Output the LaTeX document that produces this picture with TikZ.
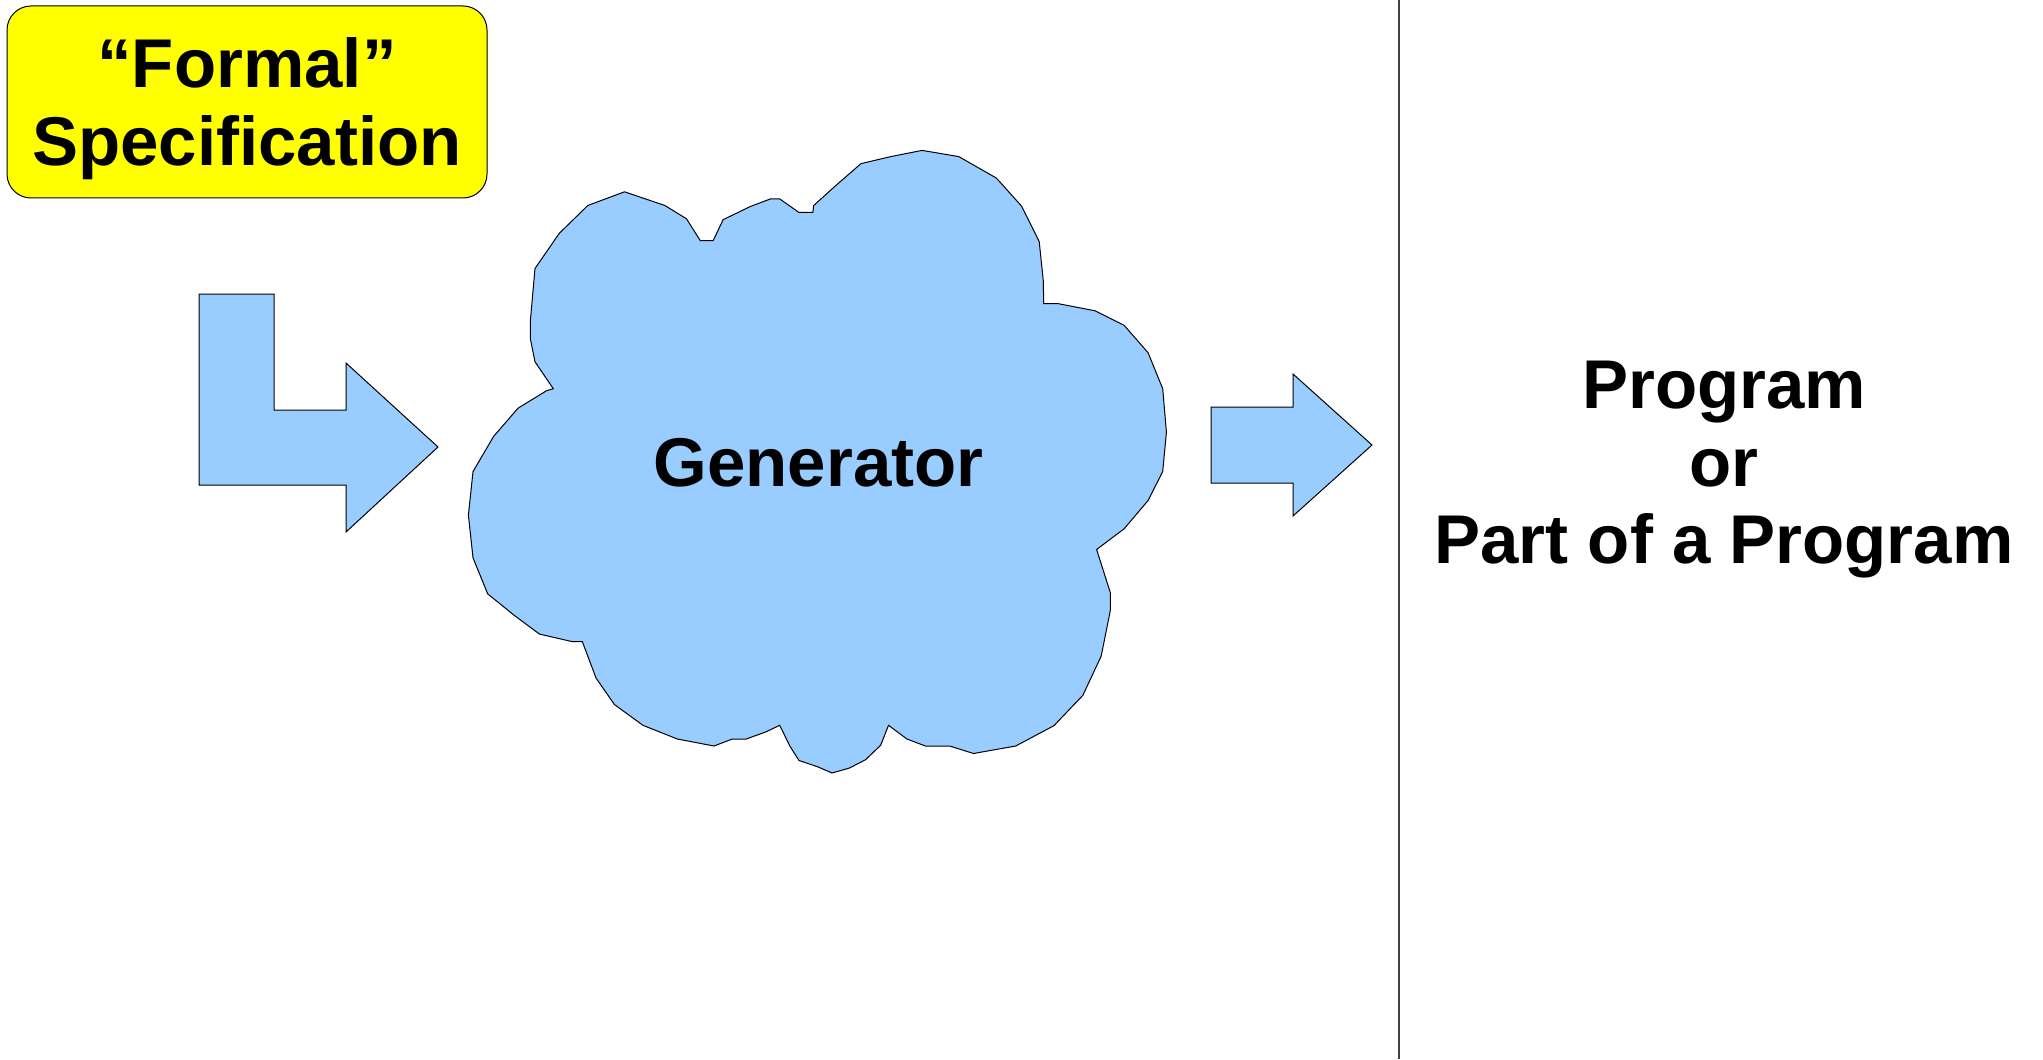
\documentclass[tikz,border=0pt]{standalone}
\usepackage{fontspec}
\setmainfont{Liberation Sans}
\definecolor{skyfill}{HTML}{99CCFF}
\definecolor{specfill}{HTML}{FFFF00}
\begin{document}
\begin{tikzpicture}[x=0.5pt,y=-0.5pt,
  shapeline/.style={draw=black, line width=0.5pt, line join=miter},
  bluefill/.style={shapeline, fill=skyfill},
  bigtext/.style={font=\fontsize{34.5}{38.75}\selectfont\bfseries, inner sep=0pt, align=center}]
\useasboundingbox (0,0) rectangle (2043,1059);

% specification box
\draw[shapeline, fill=specfill, rounded corners=12pt] (7,6) rectangle (487,198);
\node[bigtext, anchor=base] (formal) at (247,88) {“Formal”};
\node[bigtext, anchor=base] (spec) at (247,166) {Specification};

% bent arrow from specification into generator
\path[bluefill] (199,294) -- (274,294) -- (274,410) -- (346,410) -- (346,363)
  -- (438,447) -- (346,532) -- (346,485) -- (199,485) -- cycle;

% generator cloud
\path[bluefill] (587.8,205.5) -- (624.5,191.8) -- (664.9,205.5) -- (686.5,218.8)
  -- (700.3,240.7) -- (713.1,240.7) -- (723.2,219.6) -- (750.8,206.3)
  -- (770.5,198.9) -- (779.7,198.9) -- (799.0,212.5) -- (812.8,212.5)
  -- (813.7,205.5) -- (835.7,185.6) -- (861.0,163.6) -- (890.8,156.6)
  -- (922.1,150.4) -- (958.8,156.6) -- (996.4,178.1) -- (1021.7,206.3)
  -- (1039.2,241.6) -- (1043.3,280.9) -- (1043.7,303.7) -- (1058.4,303.7)
  -- (1095.2,310.8) -- (1124.1,325.3) -- (1148.0,352.6) -- (1162.7,388.7)
  -- (1166.4,432.2) -- (1162.7,471.6) -- (1148.0,500.6) -- (1124.1,528.8)
  -- (1096.6,549.5) -- (1110.3,592.6) -- (1110.3,610.5) -- (1101.2,656.1)
  -- (1082.8,695.4) -- (1053.9,725.7) -- (1015.7,746.0) -- (973.5,753.5)
  -- (949.6,746.0) -- (925.3,746.0) -- (906.9,739.0) -- (888.5,725.3)
  -- (880.7,745.2) -- (865.6,759.7) -- (849.5,768.0) -- (832.1,773.0)
  -- (817.4,766.7) -- (799.0,760.5) -- (789.8,746.0) -- (779.7,725.3)
  -- (765.9,731.9) -- (746.2,739.0) -- (732.4,739.0) -- (714.0,746.0)
  -- (677.3,739.0) -- (642.9,725.3) -- (614.4,704.5) -- (596.0,678.0)
  -- (582.3,641.5) -- (571.7,641.5) -- (539.5,634.1) -- (514.3,615.4)
  -- (487.7,593.9) -- (473.0,557.8) -- (468.4,515.1) -- (473.0,471.6)
  -- (493.6,436.4) -- (518.0,408.2) -- (546.4,390.8) -- (553.3,388.7)
  -- (535.0,361.8) -- (530.4,339.0) -- (530.4,320.3) -- (535.0,268.5)
  -- (559.3,233.3) -- cycle;
\node[bigtext, anchor=base] (gen) at (818.5,486) {Generator};

% output arrow
\path[bluefill] (1211,407) -- (1293,407) -- (1293,374) -- (1372,445)
  -- (1293,516) -- (1293,483) -- (1211,483) -- cycle;

% divider
\coordinate (divtop) at (1399,0);
\coordinate (divbot) at (1399,1059);
\draw[black!75, line width=0.75pt] (divtop) -- (divbot);

% result
\node[bigtext, anchor=base] (prog) at (1724,408) {Program};
\node[bigtext, anchor=base] (or) at (1724,486) {or};
\node[bigtext, anchor=base] (part) at (1724,563) {Part of a Program};
\end{tikzpicture}
\end{document}
